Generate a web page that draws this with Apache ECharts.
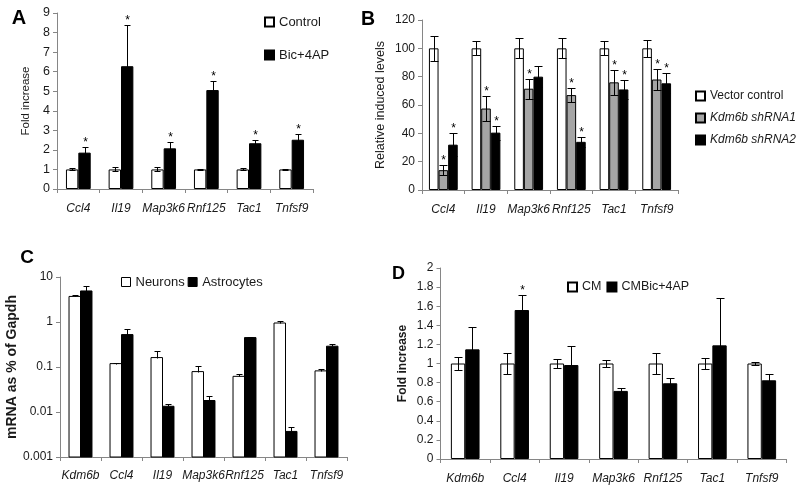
<!DOCTYPE html>
<html><head><meta charset="utf-8">
<script src="https://cdn.jsdelivr.net/npm/echarts@6/dist/echarts.min.js"></script>
<style>html,body{margin:0;padding:0;background:#fff}#c{width:800px;height:494px}</style>
</head><body><div id="c"></div>
<script>
// ---------- Panel A ----------
const catsA = ['Ccl4', 'Il19', 'Map3k6', 'Rnf125', 'Tac1', 'Tnfsf9'];
const ctrlA = [1, 1, 1, 1, 1, 1];
const ctrlErrA = [0.05, 0.1, 0.1, 0.04, 0.05, 0.03];
const bicA = [1.86, 6.28, 2.08, 5.06, 2.34, 2.52];
const bicErrA = [0.27, 2.1, 0.3, 0.48, 0.18, 0.29];
const bicSigA = [1, 1, 1, 1, 1, 1];
const yMaxA = 9, yStepA = 1;
// ---------- Panel B ----------
const catsB = ['Ccl4', 'Il19', 'Map3k6', 'Rnf125', 'Tac1', 'Tnfsf9'];
const vecB = [100, 100, 100, 100, 100, 100];
const vecErrB = [9, 5, 7, 7, 5, 6];
const sh1B = [14, 57.5, 71.5, 67, 76, 78];
const sh1ErrB = [3.5, 9, 7, 4.7, 9, 7.5];
const sh1SigB = [1, 1, 1, 1, 1, 1];
const sh2B = [32, 40.5, 80, 34, 71, 75.3];
const sh2ErrB = [8, 5, 7.6, 3.5, 7, 7];
const sh2SigB = [1, 1, 0, 1, 1, 1];
const yMaxB = 120, yStepB = 20;
// ---------- Panel C ----------
const catsC = ['Kdm6b', 'Ccl4', 'Il19', 'Map3k6', 'Rnf125', 'Tac1', 'Tnfsf9'];
const neuC = [3.7, 0.119, 0.162, 0.079, 0.062, 0.95, 0.082];
const neuErrC = [0.35, 0.006, 0.065, 0.026, 0.009, 0.08, 0.01];
const astC = [4.9, 0.525, 0.0134, 0.018, 0.45, 0.0037, 0.29];
const astErrC = [1.3, 0.19, 0.002, 0.0044, 0.02, 0.001, 0.04];
const yMinC = 0.001, yMaxC = 10;
// ---------- Panel D ----------
const catsD = ['Kdm6b', 'Ccl4', 'Il19', 'Map3k6', 'Rnf125', 'Tac1', 'Tnfsf9'];
const cmD = [1, 1, 1, 1, 1, 1, 1];
const cmErrD = [0.065, 0.115, 0.045, 0.04, 0.11, 0.055, 0.012];
const bicD = [1.148, 1.56, 0.984, 0.713, 0.793, 1.19, 0.824];
const bicErrD = [0.23, 0.16, 0.2, 0.03, 0.05, 0.5, 0.066];
const bicSigD = [0, 1, 0, 0, 0, 0, 0];
const yMaxD = 2, yStepD = 0.2;

const FONT = '"Liberation Sans", Arial, sans-serif';
const AXC = '#868686';
const TXT = '#1a1a1a';
const WHITE = {color: '#fff', borderColor: '#000', borderWidth: 1};
const GRAY = {color: '#a5a5a5', borderColor: '#000', borderWidth: 1};
const BLACK = {color: '#000', borderColor: '#000', borderWidth: 1};

function xAx(gi, cats, margin) {
  return {type: 'category', gridIndex: gi, data: cats, boundaryGap: true,
    axisLine: {lineStyle: {color: AXC}},
    axisTick: {show: true, length: 4, interval: 0, lineStyle: {color: AXC}},
    axisLabel: {interval: 0, margin: margin, fontFamily: FONT, fontSize: 12, fontStyle: 'italic', color: TXT},
    splitLine: {show: false}};
}
function yAx(gi, extra, name, nameGap, nameSize, bold, labSize) {
  return Object.assign({gridIndex: gi, type: 'value',
    axisLine: {show: true, lineStyle: {color: AXC}},
    axisTick: {show: true, length: 4, lineStyle: {color: AXC}},
    axisLabel: {margin: 7, fontFamily: FONT, fontSize: labSize, color: TXT},
    splitLine: {show: false},
    name: name, nameLocation: 'middle', nameGap: nameGap,
    nameTextStyle: {fontFamily: FONT, fontSize: nameSize, fontWeight: bold ? 'bold' : 'normal', color: TXT}
  }, extra);
}
function barS(name, gi, data, width, style) {
  return {type: 'bar', name: name, xAxisIndex: gi, yAxisIndex: gi, data: data,
    barWidth: width, barGap: '0%', itemStyle: style, silent: true, z: 2};
}
function errS(id, gi, vals, errs, sig, k, n, frac, upOnly, cap) {
  return {type: 'custom', name: id, xAxisIndex: gi, yAxisIndex: gi, z: 5, silent: true,
    data: vals.map((v, i) => [i, v, errs[i], sig ? sig[i] : 0]),
    renderItem: function (params, api) {
      const ci = api.value(0), v = api.value(1), e = api.value(2), s = api.value(3);
      const band = api.size([1, 1], [ci, v])[0];
      const off = (k - (n - 1) / 2) * band * frac;
      const pt = api.coord([ci, v + e]);
      const pb = api.coord([ci, upOnly ? v : v - e]);
      const x = Math.round(pt[0] + off) + 0.5;
      const yt = Math.round(pt[1]) + 0.5, yb = Math.round(pb[1]) + 0.5;
      const st = {stroke: '#000', lineWidth: 1};
      const ch = [
        {type: 'line', shape: {x1: x, y1: yt, x2: x, y2: yb}, style: st},
        {type: 'line', shape: {x1: x - cap, y1: yt, x2: x + cap, y2: yt}, style: st}
      ];
      if (!upOnly) ch.push({type: 'line', shape: {x1: x - cap, y1: yb, x2: x + cap, y2: yb}, style: st});
      if (s) ch.push({type: 'text', style: {text: '*', x: x, y: yt - 5, align: 'center', verticalAlign: 'middle',
        font: '12px ' + FONT, fill: '#000'}});
      return {type: 'group', children: ch};
    }};
}
function logBarS(name, gi, vals, k, n, frac, style) {
  return {type: 'custom', name: name, xAxisIndex: gi, yAxisIndex: gi, z: 2, silent: true,
    itemStyle: style,
    data: vals.map((v, i) => [i, v]),
    renderItem: function (params, api) {
      const ci = api.value(0), v = api.value(1);
      const band = api.size([1, 1], [ci, v])[0];
      const bw = band * frac;
      const off = (k - (n - 1) / 2) * bw;
      const p = api.coord([ci, v]);
      const b = api.coord([ci, yMinC]);
      return {type: 'rect', shape: {x: p[0] + off - bw / 2, y: p[1], width: bw, height: b[1] - p[1]},
        style: {fill: style.color, stroke: '#000', lineWidth: 1}};
    }};
}
function letter(t, x, y, size) {
  return {type: 'text', x: x, y: y, style: {text: t, font: 'bold ' + size + 'px ' + FONT,
    fill: '#000', align: 'center', verticalAlign: 'middle'}};
}

const legTxt = (s) => ({fontFamily: FONT, fontSize: s, color: TXT, lineHeight: 14});
const legBase = {padding: 0, itemWidth: 9, itemHeight: 9, icon: 'rect', selectedMode: false};

const option = {
  animation: false,
  backgroundColor: '#fff',
  grid: [
    {left: 57, top: 13, width: 256, height: 176},
    {left: 422, top: 20, width: 256, height: 170},
    {left: 60, top: 277, width: 287, height: 180},
    {left: 440.5, top: 268, width: 346, height: 191}
  ],
  xAxis: [xAx(0, catsA, 14), xAx(1, catsB, 14), xAx(2, catsC, 13), xAx(3, catsD, 14)],
  yAxis: [
    yAx(0, {min: 0, max: yMaxA, interval: yStepA}, 'Fold increase', 25, 11.5, false, 12.5),
    yAx(1, {min: 0, max: yMaxB, interval: yStepB}, 'Relative induced levels', 35, 12.5, false, 12),
    yAx(2, {type: 'log', logBase: 10, min: yMinC, max: yMaxC}, 'mRNA as % of Gapdh', 38, 14, true, 12),
    yAx(3, {min: 0, max: yMaxD, interval: yStepD}, 'Fold increase', 32, 12, true, 12)
  ],
  legend: [
    Object.assign({orient: 'vertical', left: 264, top: 15, itemGap: 19,
      textStyle: legTxt(13), data: ['Control', 'Bic+4AP']}, legBase),
    Object.assign({orient: 'vertical', left: 695, top: 89, itemGap: 8,
      textStyle: legTxt(12),
      data: ['Vector control', {name: 'Kdm6b shRNA1', textStyle: {fontStyle: 'italic'}},
        {name: 'Kdm6b shRNA2', textStyle: {fontStyle: 'italic'}}]}, legBase),
    Object.assign({orient: 'horizontal', left: 121, top: 275, itemGap: 3,
      textStyle: legTxt(13),
      data: [{name: 'Neurons', itemStyle: WHITE}, {name: 'Astrocytes', itemStyle: BLACK}]}, legBase),
    Object.assign({orient: 'horizontal', left: 567, top: 280, itemGap: 5,
      textStyle: legTxt(12.5), data: ['CM', 'CMBic+4AP']}, legBase)
  ],
  graphic: [letter('A', 19, 18, 20), letter('B', 368, 20, 19.5), letter('C', 27, 258, 19), letter('D', 398.5, 274, 18)],
  series: [
    barS('Control', 0, ctrlA, '29%', WHITE),
    barS('Bic+4AP', 0, bicA, '29%', BLACK),
    errS('eA1', 0, ctrlA, ctrlErrA, null, 0, 2, 0.29, false, 3),
    errS('eA2', 0, bicA, bicErrA, bicSigA, 1, 2, 0.29, false, 3),

    barS('Vector control', 1, vecB, '22.5%', WHITE),
    barS('Kdm6b shRNA1', 1, sh1B, '22.5%', GRAY),
    barS('Kdm6b shRNA2', 1, sh2B, '22.5%', BLACK),
    errS('eB1', 1, vecB, vecErrB, null, 0, 3, 0.225, false, 4),
    errS('eB2', 1, sh1B, sh1ErrB, sh1SigB, 1, 3, 0.225, false, 4),
    errS('eB3', 1, sh2B, sh2ErrB, sh2SigB, 2, 3, 0.225, false, 4),

    logBarS('Neurons', 2, neuC, 0, 2, 0.28, WHITE),
    logBarS('Astrocytes', 2, astC, 1, 2, 0.28, BLACK),
    errS('eC1', 2, neuC, neuErrC, null, 0, 2, 0.28, true, 3),
    errS('eC2', 2, astC, astErrC, null, 1, 2, 0.28, true, 3),

    barS('CM', 3, cmD, '29%', WHITE),
    barS('CMBic+4AP', 3, bicD, '29%', BLACK),
    errS('eD1', 3, cmD, cmErrD, null, 0, 2, 0.29, false, 4),
    errS('eD2', 3, bicD, bicErrD, bicSigD, 1, 2, 0.29, false, 4)
  ]
};
const chart = echarts.init(document.getElementById('c'), null, {renderer: 'canvas'});
chart.setOption(option);
</script></body></html>
